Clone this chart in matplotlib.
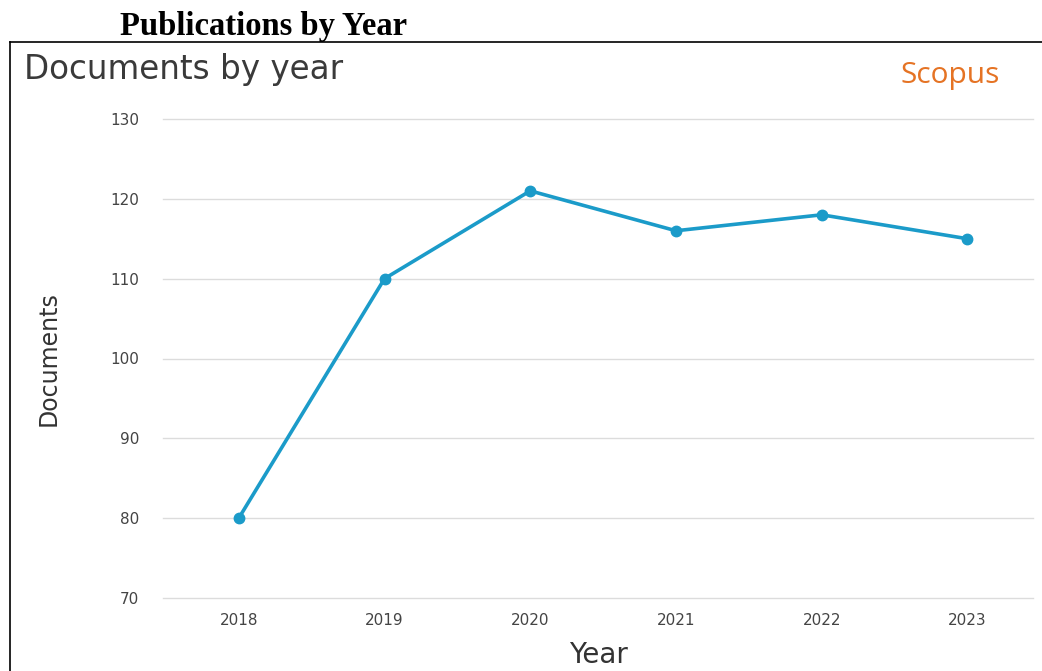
import matplotlib
matplotlib.use("Agg")
import matplotlib.pyplot as plt
from matplotlib.lines import Line2D

years = [2018, 2019, 2020, 2021, 2022, 2023]
documents = [80, 110, 121, 116, 118, 115]
y_ticks = [70, 80, 90, 100, 110, 120, 130]

W, H = 1042, 671
fig = plt.figure(figsize=(W / 100, H / 100), dpi=100)
fig.patch.set_facecolor("white")

def fx(px):
    return px / W

def fy(py):
    return 1 - py / H

# axes: x 163..1033 px, y 119..598 px
ax = fig.add_axes([fx(163), fy(598), fx(1033) - fx(163), fy(119) - fy(598)])
ax.plot(years, documents, color="#1b9bc9", linewidth=2.6, marker="o",
        markersize=7.5, solid_joinstyle="round", zorder=3)
ax.set_ylim(70, 130)
ax.set_xlim(2017.48, 2023.45)
ax.set_yticks(y_ticks)
ax.set_xticks(years)
ax.set_xticklabels([str(y) for y in years])
ax.grid(axis="y", color="#dcdcdc", linewidth=1.0)
for gl in ax.get_ygridlines():
    gl.set_clip_on(False)
ax.set_axisbelow(True)
for s in ax.spines.values():
    s.set_visible(False)
ax.tick_params(axis="both", length=0, labelsize=11, colors="#444444")
ax.tick_params(axis="y", pad=17)
ax.tick_params(axis="x", pad=11)
ax.set_ylabel("Documents", fontsize=17, color="#333333", labelpad=36)
ax.set_xlabel("Year", fontsize=20, color="#333333", labelpad=9)

# Titles
fig.text(fx(120), fy(26), "Publications by Year", family="Liberation Serif",
         fontweight="bold", fontsize=23.5, va="center", ha="left", color="black")
fig.text(fx(24), fy(70), "Documents by year", fontsize=23.5, color="#3a3a3a",
         va="center", ha="left")
fig.text(fx(1000), fy(75), "Scopus", family="Open Sans", fontsize=21.5,
         color="#e57324", va="center", ha="right")

# Frame lines
fig.add_artist(Line2D([fx(10), 1], [fy(42), fy(42)], color="black", linewidth=1.2))
fig.add_artist(Line2D([fx(10), fx(10)], [fy(42), 0], color="black", linewidth=1.2))

fig.savefig("out.png", dpi=100, facecolor="white")
